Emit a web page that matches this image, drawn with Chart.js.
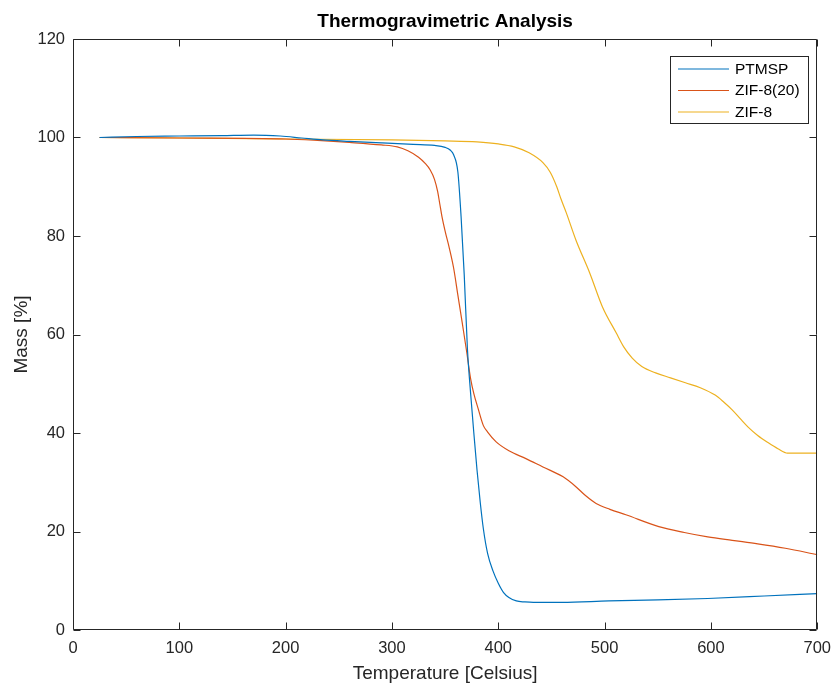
<!DOCTYPE html>
<html>
<head>
<meta charset="utf-8">
<script src="https://cdn.jsdelivr.net/npm/chart.js"></script>
<style>
  body { margin: 0; background: #fff; }
  #wrap { width: 840px; height: 686px; }
</style>
</head>
<body>
<div id="wrap"><canvas id="tgaChart" width="840" height="686"></canvas></div>
<script>
// series: temperature [C] and mass [%]
var ptmspTemp = [25, 60, 100, 140, 170, 195, 215, 235, 260, 290, 320, 340, 350, 355, 358, 362, 365, 368, 371, 374, 377, 380, 383, 386, 390, 395, 400, 405, 410, 417, 425, 433, 460, 504, 550, 597, 650, 700];
var ptmspMass = [100.0, 100.2, 100.3, 100.4, 100.5, 100.3, 99.9, 99.5, 99.2, 98.9, 98.6, 98.4, 98.0, 97.4, 96.5, 93, 84, 72, 57, 48, 40, 32.5, 26, 20.5, 15.5, 12, 9.5, 7.6, 6.6, 5.9, 5.7, 5.6, 5.6, 5.9, 6.1, 6.4, 6.9, 7.4];

var zif20Temp = [25, 100, 200, 230, 260, 290, 305, 315, 325, 331, 336, 340, 343, 345, 347, 350, 354, 358, 362, 366, 370, 374, 377, 381, 386, 390, 398, 410, 426, 442, 461, 473, 482, 492, 505, 520, 551, 575, 597, 620, 644, 670, 700];
var zif20Mass = [100.0, 99.9, 99.7, 99.4, 99.0, 98.5, 98.1, 97.3, 96.0, 94.8, 93.4, 91.5, 89, 86.5, 84, 81, 77.5, 73.5, 68, 62.5, 56.9, 51, 48, 45, 41.5, 40.2, 38.2, 36.4, 34.8, 33.1, 31.1, 29.1, 27.3, 25.7, 24.5, 23.4, 21.0, 19.8, 18.9, 18.2, 17.5, 16.6, 15.3];

var zif8Temp = [25, 100, 200, 300, 350, 380, 400, 415, 429, 442, 449, 455, 459, 464, 473, 486, 498, 511, 518, 526, 535, 548, 562, 576, 590, 604, 612, 620, 628, 635, 644, 654, 663, 672, 685, 700];
var zif8Mass = [100.0, 99.9, 99.7, 99.5, 99.3, 99.1, 98.7, 98.1, 96.9, 94.9, 92.9, 90, 87.5, 84.7, 79.2, 72.5, 65.6, 60.3, 57.5, 55.2, 53.5, 52.2, 51.2, 50.2, 49.2, 47.7, 46.3, 44.7, 42.8, 41.2, 39.5, 38, 36.8, 35.9, 35.9, 35.9];

var seriesNames = ['PTMSP', 'ZIF-8(20)', 'ZIF-8'];
var seriesColors = ['#0072BD', '#D95319', '#EDB120'];
var chartTitle = 'Thermogravimetric Analysis';

var FONT = "'Liberation Sans', Arial, Helvetica, sans-serif";
var INK = '#262626';

function toPoints(xs, ys) {
  return xs.map(function (t, i) { return { x: t, y: ys[i] }; });
}

// MATLAB style box with inward ticks, title over the axes, legend box
var boxPlugin = {
  id: 'matlabBox',
  afterDraw: function (chart) {
    var c = chart.ctx;
    var a = chart.chartArea;
    var xs = chart.scales.x, ys = chart.scales.y;
    var L = Math.round(a.left) + 0.5, R = Math.round(a.right) - 0.5;
    var T = Math.round(a.top) + 0.5, B = Math.round(a.bottom) - 0.5;
    var tick = 7;
    c.save();
    c.strokeStyle = INK;
    c.lineWidth = 1;
    c.beginPath();
    c.rect(L, T, R - L, B - T);
    xs.ticks.forEach(function (t) {
      var px = Math.round(xs.getPixelForValue(t.value)) + 0.5;
      c.moveTo(px, B); c.lineTo(px, B - tick);
      c.moveTo(px, T); c.lineTo(px, T + tick);
    });
    ys.ticks.forEach(function (t) {
      var py = Math.round(ys.getPixelForValue(t.value)) + 0.5;
      c.moveTo(L, py); c.lineTo(L + tick, py);
      c.moveTo(R, py); c.lineTo(R - tick, py);
    });
    c.stroke();

    // title, centred on the axes
    c.fillStyle = '#000';
    c.font = 'bold 19px ' + FONT;
    c.textAlign = 'center';
    c.textBaseline = 'middle';
    c.fillText(chartTitle, (a.left + a.right) / 2, 22);

    // legend
    var lx = 670.5, ly = 56.5, lw = 138, lh = 67;
    c.fillStyle = '#fff';
    c.fillRect(lx, ly, lw, lh);
    c.strokeStyle = INK;
    c.strokeRect(lx, ly, lw, lh);
    c.font = '15.5px ' + FONT;
    c.textAlign = 'left';
    chart.data.datasets.forEach(function (ds, i) {
      var yy = 69 + i * 21.5;
      c.strokeStyle = ds.borderColor;
      c.lineWidth = 1.2;
      c.beginPath();
      c.moveTo(678, yy); c.lineTo(729, yy);
      c.stroke();
      c.fillStyle = '#000';
      c.fillText(ds.label, 735, yy + 0.5);
    });
    c.restore();
  }
};

var ctx = document.getElementById('tgaChart').getContext('2d');
var chart = new Chart(ctx, {
  type: 'line',
  data: {
    datasets: [
      { label: seriesNames[0], data: toPoints(ptmspTemp, ptmspMass), borderColor: seriesColors[0] },
      { label: seriesNames[1], data: toPoints(zif20Temp, zif20Mass), borderColor: seriesColors[1] },
      { label: seriesNames[2], data: toPoints(zif8Temp, zif8Mass), borderColor: seriesColors[2] }
    ]
  },
  options: {
    responsive: false,
    animation: false,
    layout: { padding: { left: 0, right: 17, top: 39, bottom: 0 } },
    elements: {
      point: { radius: 0 },
      line: { borderWidth: 1.2, cubicInterpolationMode: 'monotone', fill: false }
    },
    plugins: {
      legend: { display: false },
      tooltip: { enabled: false },
      title: { display: false }
    },
    scales: {
      x: {
        type: 'linear',
        min: 0, max: 700,
        grid: { display: false, drawTicks: false },
        border: { display: false },
        ticks: { stepSize: 100, color: INK, padding: 9, font: { family: FONT, size: 16.5 }, maxRotation: 0 },
        title: { display: true, text: 'Temperature [Celsius]', color: INK, font: { family: FONT, size: 19 }, padding: { top: 0, bottom: 1 } },
        afterFit: function (scale) { scale.height = 56; }
      },
      y: {
        min: 0, max: 120,
        grid: { display: false, drawTicks: false },
        border: { display: false },
        ticks: { stepSize: 20, color: INK, padding: 8, font: { family: FONT, size: 16.5 } },
        title: { display: true, text: 'Mass [%]', color: INK, font: { family: FONT, size: 19 }, padding: { top: 10, bottom: 0 } },
        afterFit: function (scale) { scale.width = 73; }
      }
    }
  },
  plugins: [boxPlugin]
});
</script>
</body>
</html>
